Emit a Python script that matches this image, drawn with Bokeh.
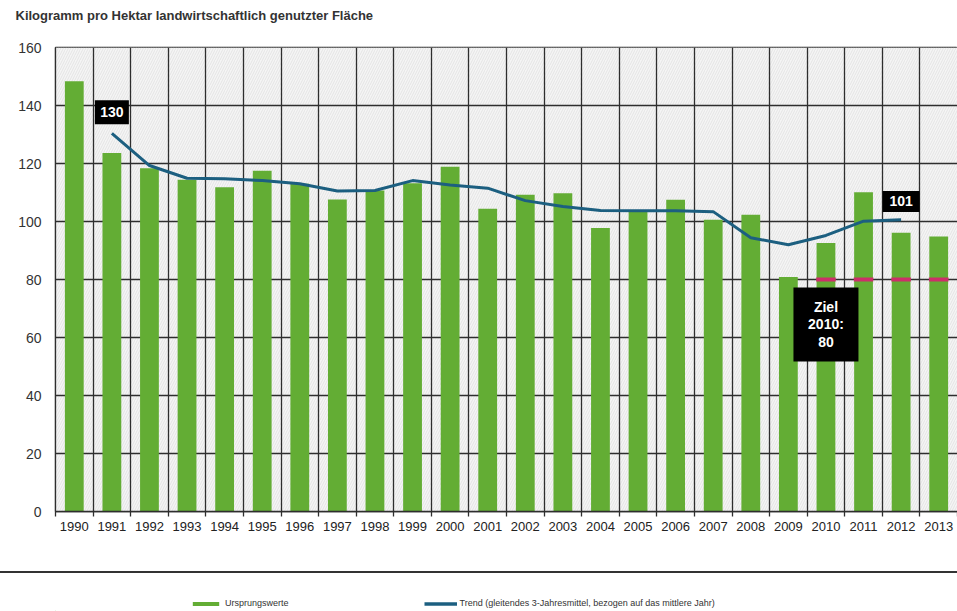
from bokeh.plotting import figure
from bokeh.models import Range1d, FixedTicker, Legend, LegendItem, ColumnDataSource, Div, Title
from bokeh.layouts import column
from bokeh.core.properties import value
from bokeh.embed import file_html
from bokeh.resources import INLINE

title_text = "Kilogramm pro Hektar landwirtschaftlich genutzter Fläche"

years = list(range(1990, 2014))
values = [148.4, 123.6, 118.4, 114.4, 111.8, 117.5, 113.0, 107.6, 110.7, 113.2, 118.9,
          104.4, 109.2, 109.7, 97.8, 104.0, 107.5, 100.6, 102.3, 80.9, 92.6, 110.1, 96.1, 94.8]

trend_years = list(range(1991, 2013))
trend = [130.4, 119.3, 114.9, 114.7, 114.1, 113.0, 110.5, 110.7, 114.1, 112.6,
         111.5, 107.2, 105.2, 103.8, 103.7, 103.7, 103.4, 94.4, 92.0, 95.2, 100.1, 100.6]

target_value = 80
target_label_year = 2010
target_years = [2010, 2011, 2012, 2013]

y_ticks = [0, 20, 40, 60, 80, 100, 120, 140, 160]

label_bar = "Ursprungswerte"
label_trend = "Trend (gleitendes 3-Jahresmittel, bezogen auf das mittlere Jahr)"

GREEN = "#63ad34"
BLUE = "#1c5f80"
PINK = "#cc2f69"
GRID = "#2e2e2e"
FONT = "Liberation Sans"

W = 957
LEFT = 55
p = figure(width=W, height=568,
           x_range=Range1d(years[0] - 0.5, years[-1] + 0.5),
           y_range=Range1d(y_ticks[0], y_ticks[-1]),
           output_backend="svg", toolbar_location=None,
           min_border_left=LEFT, min_border_right=0, min_border_top=47, min_border_bottom=57,
           title=title_text)

p.title.align = "left"
p.title.offset = -40
p.title.standoff = 0
p.title.text_font = FONT
p.title.text_font_size = "13px"
p.title.text_font_style = "bold"
p.title.text_color = "#333333"
# invisible spacer between the title and the frame
p.add_layout(Title(text=" ", text_font_size="1px", standoff=22), "above")

p.background_fill_color = "#ffffff"
p.border_fill_color = "#ffffff"
p.outline_line_color = GRID
p.outline_line_width = 1.3

# hatched background of the plot area
p.quad(left=[p.x_range.start], right=[p.x_range.end], bottom=[p.y_range.start], top=[p.y_range.end],
       fill_color="#f5f5f5", line_color=None, hatch_pattern="/", hatch_color="#e0e0e0",
       hatch_scale=5, hatch_weight=0.8, level="image")

boundaries = [y + 0.5 for y in years[:-1]]
p.xgrid.ticker = FixedTicker(ticks=boundaries)
p.ygrid.ticker = FixedTicker(ticks=y_ticks)
for g in (p.xgrid, p.ygrid):
    g.grid_line_color = GRID
    g.grid_line_width = 1.3
    g.grid_line_alpha = 1

xa = p.xaxis[0]
xa.ticker = FixedTicker(ticks=years, minor_ticks=[years[0] - 0.5] + boundaries + [years[-1] + 0.5])
xa.major_tick_line_color = None
xa.major_tick_out = 0
xa.major_tick_in = 0
xa.minor_tick_out = 5
xa.minor_tick_in = 0
xa.minor_tick_line_color = GRID
xa.minor_tick_line_width = 1.3
xa.axis_line_color = GRID
xa.axis_line_width = 1.3
xa.major_label_standoff = 5
xa.major_label_text_font = FONT
xa.major_label_text_font_size = "13px"
xa.major_label_text_color = "#222222"

ya = p.yaxis[0]
ya.ticker = FixedTicker(ticks=y_ticks)
ya.major_tick_out = 0
ya.major_tick_in = 0
ya.minor_tick_line_color = None
ya.axis_line_color = GRID
ya.axis_line_width = 1.3
ya.major_label_standoff = 14
ya.major_label_text_font = FONT
ya.major_label_text_font_size = "14px"
ya.major_label_text_color = "#333333"

bars = p.vbar(x=years, top=values, width=0.5, bottom=0, fill_color=GREEN, line_color=None)
tline = p.line(x=trend_years, y=trend, line_color=BLUE, line_width=3)

# target dashes
p.segment(x0=[y - 0.26 for y in target_years], x1=[y + 0.26 for y in target_years],
          y0=[target_value] * len(target_years), y1=[target_value] * len(target_years),
          line_color=PINK, line_width=4)

# value boxes
box_src = ColumnDataSource(dict(
    x=[trend_years[0], trend_years[-1], target_label_year],
    y=[trend[0] + 7.3, trend[-1] + 6.3, target_value - 15.5],
    w=[34, 37, 65],
    h=[24, 21, 74],
))
p.rect(x="x", y="y", width="w", height="h", width_units="screen", height_units="screen",
       source=box_src, fill_color="black", line_color=None)

txt_src = ColumnDataSource(dict(
    x=[trend_years[0], trend_years[-1], target_label_year, target_label_year, target_label_year],
    y=[trend[0] + 7.3, trend[-1] + 6.3, target_value - 15.5, target_value - 15.5, target_value - 15.5],
    t=[str(round(trend[0])), str(round(trend[-1])), "Ziel", f"{target_label_year}:", str(target_value)],
    yo=[0, 0, -17.5, 0, 17.5],
))
p.text(x="x", y="y", text="t", y_offset="yo", source=txt_src,
       text_font=value(FONT), text_font_size="14px", text_font_style="bold",
       text_color="white", text_align="center", text_baseline="middle")

# separator line across the page
sep = Div(text="", width=W, height=2, margin=(3, 0, 0, 0),
          styles={"background-color": "#333333"})

# legend strip
LH = 38
lf = figure(width=W, height=LH, x_range=Range1d(0, W), y_range=Range1d(0, LH),
            output_backend="svg", toolbar_location=None,
            x_axis_location=None, y_axis_location=None, min_border=0)
lf.outline_line_color = None
lf.background_fill_alpha = 0
lf.border_fill_alpha = 0
lf.xgrid.visible = False
lf.ygrid.visible = False
lf.grid.grid_line_color = None
rb = lf.vbar(x=[-50], top=[1], width=1, fill_color=GREEN, line_color=None)
rl = lf.line(x=[-60, -50], y=[0, 0], line_color=BLUE, line_width=3.5)
leg = Legend(items=[LegendItem(label=label_bar, renderers=[rb]),
                    LegendItem(label=label_trend, renderers=[rl])],
             orientation="horizontal", location=(189 - LEFT, 3),
             glyph_width=33, glyph_height=5, label_standoff=3, spacing=135,
             padding=0, margin=0, border_line_color=None, background_fill_alpha=0,
             label_height=10, label_text_font=FONT,
             label_text_font_size="9px", label_text_color="#333333")
lf.add_layout(leg)

layout = column(p, sep, lf, spacing=0)
open("out.html", "w").write(file_html(layout, INLINE))
